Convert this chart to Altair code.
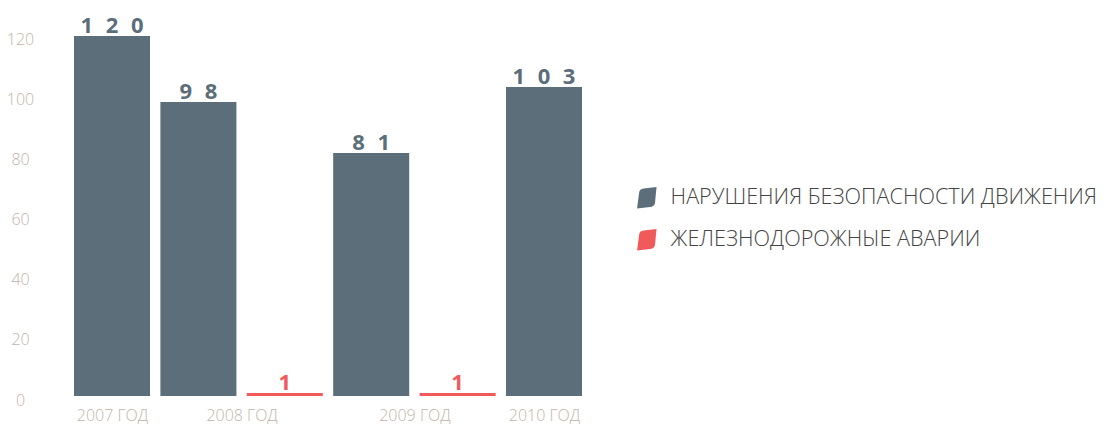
import altair as alt
import pandas as pd

# ---- data ----
years = ["2007 ГОД", "2008 ГОД", "2008 ГОД", "2009 ГОД", "2009 ГОД", "2010 ГОД"]
series = [
    "НАРУШЕНИЯ БЕЗОПАСНОСТИ ДВИЖЕНИЯ",
    "НАРУШЕНИЯ БЕЗОПАСНОСТИ ДВИЖЕНИЯ",
    "ЖЕЛЕЗНОДОРОЖНЫЕ АВАРИИ",
    "НАРУШЕНИЯ БЕЗОПАСНОСТИ ДВИЖЕНИЯ",
    "ЖЕЛЕЗНОДОРОЖНЫЕ АВАРИИ",
    "НАРУШЕНИЯ БЕЗОПАСНОСТИ ДВИЖЕНИЯ",
]
values = [120, 98, 1, 81, 1, 103]
series_names = ["НАРУШЕНИЯ БЕЗОПАСНОСТИ ДВИЖЕНИЯ", "ЖЕЛЕЗНОДОРОЖНЫЕ АВАРИИ"]
series_colors = ["#5b6e79", "#f05a5b"]
y_ticks = [0, 20, 40, 60, 80, 100, 120]

df = pd.DataFrame({"slot": list(range(len(values))), "year": years,
                   "series": series, "value": values})

# year tick positions = mean slot of each year
year_names = list(dict.fromkeys(years))
year_pos = [sum(i for i, y in enumerate(years) if y == yn) / years.count(yn) for yn in year_names]
label_expr = " : ".join(f"datum.value == {p} ? '{n}'" for p, n in zip(year_pos, year_names)) + " : ''"

HALF = 0.44
FIG = "\u2007"

x_scale = alt.Scale(domain=[-HALF, len(values) - 1 + HALF], nice=False, zero=False)
y_scale = alt.Scale(domain=[0, 129.33], nice=False)
color = alt.Color("series:N", scale=alt.Scale(domain=series_names, range=series_colors),
                  legend=alt.Legend(
                      title=None, orient="none", legendX=562, legendY=179,
                      symbolType="M -0.75,-0.5 Q -0.72,-0.85 -0.3,-0.9 L 0.95,-1.05 L 0.8,0.5 Q 0.75,0.85 0.3,0.9 L -0.95,1.05 Z",
                      symbolSize=420, symbolStrokeWidth=0, symbolOpacity=1,
                      labelFont="Open Sans", labelFontWeight=300, labelFontSize=21.6,
                      labelColor="#444444", labelOffset=13, rowPadding=19,
                      labelLimit=600))

base = alt.Chart(df).transform_calculate(
    x0=f"datum.slot - {HALF}", x1=f"datum.slot + {HALF}",
    lab=f"join(split(toString(datum.value), ''), '{FIG}')")

bars = base.mark_bar().encode(
    x=alt.X("x0:Q", scale=x_scale,
            axis=alt.Axis(values=year_pos, labelExpr=label_expr, domain=False, ticks=False,
                          grid=False, title=None, labelFont="Open Sans", labelFontWeight=300,
                          labelFontSize=16, labelColor="#bfb4a9", labelPadding=19,
                          labelBaseline="middle", labelFlush=False)),
    x2="x1:Q",
    y=alt.Y("value:Q", scale=y_scale,
            axis=alt.Axis(values=y_ticks, domain=False, ticks=False, tickSize=0, grid=False,
                          title=None, labelAlign="center", labelPadding=54, labelOffset=4,
                          labelFont="Open Sans", labelFontWeight=300, labelFontSize=16,
                          labelColor="#bfb4a9", labelBaseline="middle")),
    y2=alt.datum(0),
    color=color,
)

texts = base.mark_text(font="Open Sans", fontWeight="bold", fontSize=22,
                       baseline="alphabetic", dy=-3).encode(
    x=alt.X("slot:Q", scale=x_scale),
    y=alt.Y("value:Q", scale=y_scale),
    text="lab:N",
    color=alt.Color("series:N", scale=alt.Scale(domain=series_names, range=series_colors), legend=None),
)

chart = alt.layer(bars, texts).properties(
    width=508, height=388,
    autosize=alt.AutoSizeParams(type="none"),
    padding={"left": 66, "top": 0, "right": 517, "bottom": 32},
).configure(background="white").configure_view(stroke=None, strokeWidth=0)

chart.save("out.html", embed_options={"renderer": "svg", "actions": False})
